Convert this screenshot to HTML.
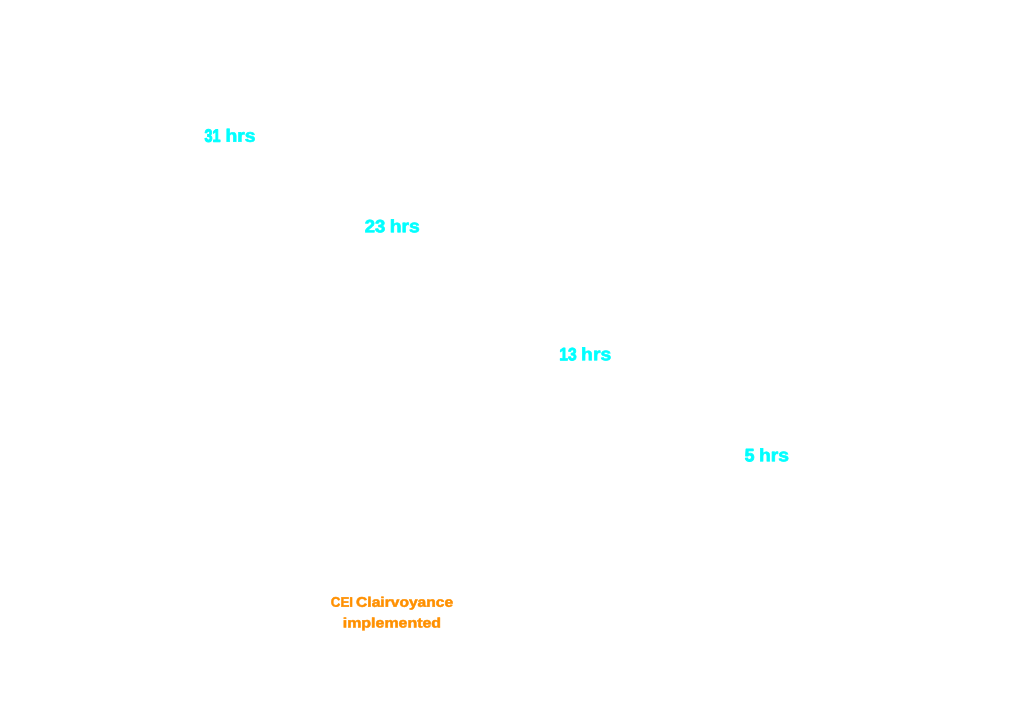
<!DOCTYPE html>
<html lang="en">
<head>
<meta charset="utf-8">
<title>CEI Clairvoyance implemented</title>
<style>
html,body{margin:0;padding:0;background:#ffffff;}
body{width:1024px;height:707px;overflow:hidden;}
svg{display:block;}
text{font-family:"Liberation Sans", sans-serif;font-weight:700;white-space:pre;stroke-linejoin:round;}
.c{font-size:17.8px;fill:#00ffff;stroke:#00ffff;}
.o{font-size:13.9px;fill:#ff9000;stroke:#ff9000;}
</style>
</head>
<body>
<svg width="1024" height="707" viewBox="0 0 1024 707">
<g>
  <text class="c d" stroke-width="0.95" transform="translate(204.55 141.75) rotate(0.05) scale(0.8101 1)">31</text>
  <text class="c" stroke-width="0.63" transform="translate(225.40 141.75) rotate(0.05) scale(1.0857 1)">hrs</text>
</g>
<g>
  <text class="c d" stroke-width="0.69" transform="translate(364.84 232.30) rotate(0.05) scale(1.0390 1)">23</text>
  <text class="c" stroke-width="0.63" transform="translate(389.75 232.30) rotate(0.05) scale(1.0857 1)">hrs</text>
</g>
<g>
  <text class="c d" stroke-width="0.85" transform="translate(559.34 360.35) rotate(0.05) scale(0.8800 1)">13</text>
  <text class="c" stroke-width="0.63" transform="translate(581.10 360.35) rotate(0.05) scale(1.0857 1)">hrs</text>
</g>
<g>
  <text class="c d" stroke-width="0.95" transform="translate(744.80 461.30) rotate(0.05) scale(0.9744 1)">5</text>
  <text class="c" stroke-width="0.63" transform="translate(758.89 461.30) rotate(0.05) scale(1.0857 1)">hrs</text>
</g>
<g>
  <text class="o" stroke-width="0.45" transform="translate(330.81 606.65) rotate(0.05) scale(0.9551 1)">CEI</text>
  <text class="o" stroke-width="0.5" transform="translate(356.10 606.65) rotate(0.05) scale(1.1221 1)">Clairvoyance</text>
</g>
<g>
  <text class="o" stroke-width="0.48" transform="translate(342.74 627.40) rotate(0.05) scale(1.1484 1)">implemented</text>
</g>
</svg>
</body>
</html>
